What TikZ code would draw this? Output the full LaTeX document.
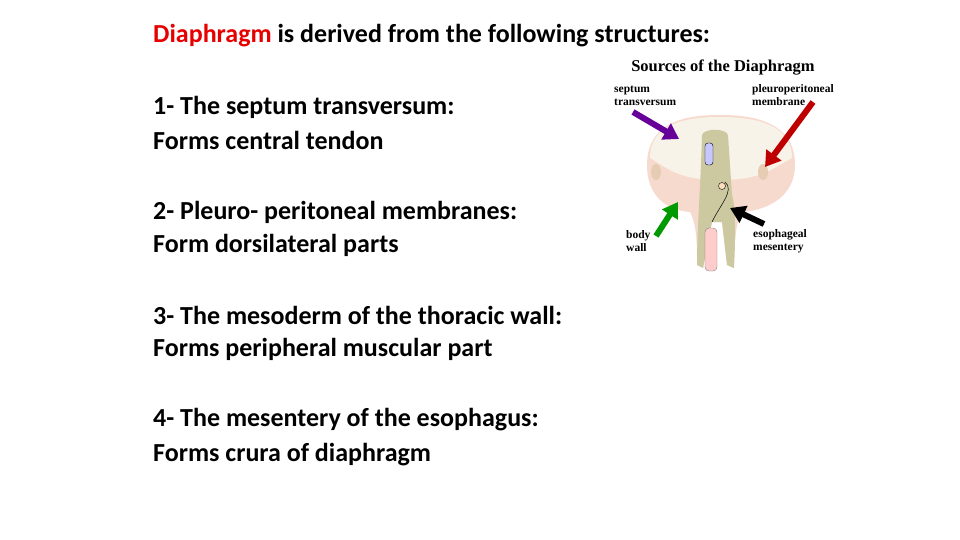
\documentclass[tikz,border=0pt]{standalone}
\usepackage{fontspec}
\setmainfont{Carlito}
\newfontfamily\serifb{Liberation Serif}
\usetikzlibrary{arrows.meta}
\definecolor{dred}{RGB}{230,0,0}
\definecolor{cream}{RGB}{247,243,232}
\definecolor{pinkish}{RGB}{246,218,205}
\definecolor{olive}{RGB}{204,200,160}
\begin{document}
\begin{tikzpicture}[x=1pt,y=-1pt,
  body/.style={anchor=west,font=\fontsize{26}{30}\selectfont\bfseries,inner sep=0},
  lab/.style={anchor=west,font=\serifb\fontsize{11.5}{13}\selectfont\bfseries,align=left,inner sep=0},
  fat/.style={line width=6pt,-{Triangle[length=15pt,width=18pt]}}]
\useasboundingbox (0,0) rectangle (960,540);
\node[body] (t0) at (153,36) {\textcolor{dred}{Diaphragm} is derived from the following structures:};
\node[body] (a1) at (153,107) {1- The septum transversum:};
\node[body] (b1) at (153,140) {Forms central tendon};
\node[body] (a2) at (153,212) {2- Pleuro- peritoneal membranes:};
\node[body] (b2) at (153,245) {Form dorsilateral parts};
\node[body] (a3) at (153,315) {3- The mesoderm of the thoracic wall:};
\node[body] (b3) at (153,349) {Forms peripheral muscular part};
\node[body] (a4) at (153,420) {4- The mesentery of the esophagus:};
\node[body] (b4) at (153,455) {Forms crura of diaphragm};
% figure
\node[font=\serifb\fontsize{16.5}{18}\selectfont\bfseries] (ttl) at (723,68) {Sources of the Diaphragm};
% disc
\fill[pinkish] (647,165) .. controls (647,120) and (690,115) .. (719,115) .. controls (750,115) and (795,120) .. (795,165)
  .. controls (795,195) and (770,210) .. (742,212) .. controls (734,225) and (735,250) .. (733,268) -- (727,265) -- (722,222) -- (712,222) -- (703,268) -- (697,265)
  .. controls (697,245) and (697,225) .. (690,212) .. controls (665,210) and (647,195) .. (647,165) -- cycle;
\fill[cream] (650,158) .. controls (650,122) and (690,117) .. (719,117) .. controls (750,117) and (792,122) .. (792,158)
  .. controls (770,170) and (760,180) .. (720,180) .. controls (680,180) and (670,170) .. (650,158) -- cycle;
\fill[olive] (702,135) .. controls (704,128) and (726,128) .. (728,135) -- (732,195) .. controls (735,205) and (736,230) .. (734,268)
  -- (727,265) -- (722,222) -- (712,222) -- (703,268) -- (697,265) .. controls (697,230) and (700,200) .. (702,135) -- cycle;
\fill[blue!22,draw=black,line width=0.4pt,rounded corners=3pt] (705,143) rectangle (713,165);
\fill[orange!25,draw=black,line width=0.4pt] (722,186) circle (3.5);
\draw[line width=0.5pt] (725,182) .. controls (735,190) and (720,205) .. (712,222);
\fill[pink!80,draw=black!50,line width=0.4pt,rounded corners=4pt] (705,228) rectangle (717,271);
\fill[brown!40] (656,172) ellipse (5 and 8);
\fill[brown!40] (763,172) ellipse (5 and 8);
\node[lab] (l1) at (614,96) {septum\\transversum};
\node[lab] (l2) at (752,95) {pleuroperitoneal\\membrane};
\node[lab] (l3) at (626,241) {body\\wall};
\node[lab] (l4) at (753,241) {esophageal\\mesentery};
\coordinate (p1) at (679,139); \coordinate (p2) at (765,167);
\coordinate (p3) at (678,202); \coordinate (p4) at (730,208);
\draw[fat,color=violet!80!blue] (633,112) -- (p1);
\draw[fat,color=red!75!black] (813,102) -- (p2);
\draw[fat,color=green!60!black] (656,236) -- (p3);
\draw[fat,color=black] (764,224) -- (p4);
\end{tikzpicture}
\end{document}
